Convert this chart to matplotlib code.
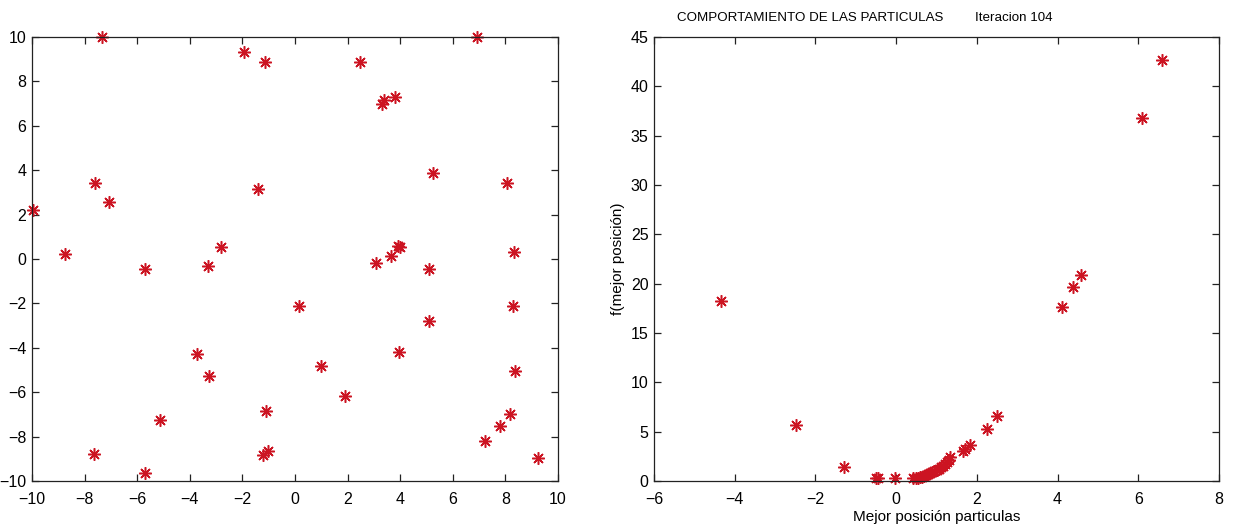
import matplotlib
matplotlib.use("Agg")
import matplotlib.pyplot as plt

# left panel: current particle positions
pos_x = [-9.95, -8.73, -7.33, -7.62, -7.08, -5.70, -3.30, -2.80, -1.95, -1.13,
         -1.42, 2.47, 3.32, 3.38, 3.80, 6.91, 5.24, 8.05, 3.99, 3.93,
         3.65, 3.07, 8.34, 5.10, -3.74, -3.26, -5.13, -7.63, -5.70, -1.10,
         -1.04, -1.20, 0.17, 0.99, 1.91, 3.94, 5.10, 8.28, 8.37, 8.17,
         7.79, 7.21, 9.23]
pos_y = [2.20, 0.22, 10.00, 3.44, 2.58, -0.44, -0.30, 0.53, 9.31, 8.88,
         3.15, 8.88, 7.00, 7.16, 7.31, 9.98, 3.86, 3.41, 0.55, 0.60,
         0.13, -0.20, 0.30, -0.44, -4.28, -5.27, -7.25, -8.78, -9.65, -6.85,
         -8.65, -8.83, -2.12, -4.80, -6.16, -4.20, -2.80, -2.10, -5.03, -6.97,
         -7.54, -8.20, -8.95]

# right panel: best position vs its objective value
best_x = [-4.35, -2.47, -1.29, -0.50, -0.46, -0.03, 0.43, 0.50, 0.55, 0.60,
          0.65, 0.70, 0.75, 0.80, 0.85, 0.90, 0.95, 1.00, 1.05, 1.10,
          1.15, 1.20, 1.25, 1.30, 1.33, 1.65, 1.70, 1.83, 2.24, 2.51,
          4.12, 4.39, 4.57, 6.09, 6.58]
best_f = [18.2, 5.67, 1.45, 0.30, 0.35, 0.30, 0.30, 0.30, 0.35, 0.40,
          0.45, 0.55, 0.65, 0.75, 0.85, 0.95, 1.05, 1.15, 1.25, 1.40,
          1.50, 1.70, 1.90, 2.10, 2.46, 3.00, 3.20, 3.65, 5.23, 6.58,
          17.6, 19.7, 20.9, 36.8, 42.7]

plt.rcParams["font.family"] = ["Liberation Sans", "DejaVu Sans"]
plt.rcParams["font.size"] = 11.5

fig = plt.figure(figsize=(12.35, 5.29), dpi=100)
ax1 = fig.add_axes([32 / 1235, 1 - 481 / 529, 526 / 1235, 444 / 529])
ax2 = fig.add_axes([654 / 1235, 1 - 481 / 529, 565 / 1235, 444 / 529])

mk = dict(linestyle="none", marker=(8, 2, 0), markersize=9, mew=1.1,
          color="#cc1422", clip_on=False)

ax1.plot(pos_x, pos_y, **mk)
ax1.set_xlim(-10, 10)
ax1.set_ylim(-10, 10)
ax1.set_xticks(range(-10, 11, 2))
ax1.set_yticks(range(-10, 11, 2))

ax2.plot(best_x, best_f, **mk)
ax2.set_xlim(-6, 8)
ax2.set_ylim(0, 45)
ax2.set_xticks(range(-6, 9, 2))
ax2.set_yticks(range(0, 46, 5))
ax2.set_xlabel("Mejor posición particulas", labelpad=2, fontsize=11)
ax2.set_ylabel("f(mejor posición)", labelpad=4, fontsize=11)

for ax in (ax1, ax2):
    ax.tick_params(direction="in", length=5, width=0.9, top=True, right=True,
                   colors="#222222", labelcolor="black")
    ax.tick_params(axis="x", pad=8)
    ax.tick_params(axis="y", pad=4)
    for s in ax.spines.values():
        s.set_linewidth(0.9)
        s.set_color("#222222")

fig.text(677 / 1235, 1 - 18 / 529, "COMPORTAMIENTO DE LAS PARTICULAS",
         ha="left", va="center", fontsize=9.6)
fig.text(975 / 1235, 1 - 18 / 529, "Iteracion 104",
         ha="left", va="center", fontsize=9.6)

fig.savefig("out.png", dpi=100)
